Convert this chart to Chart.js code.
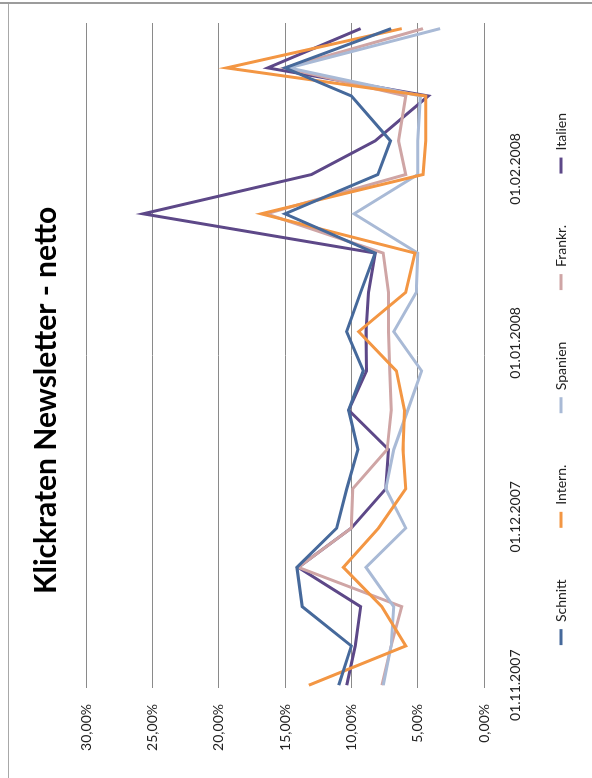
<!DOCTYPE html>
<html>
<head>
<meta charset="utf-8">
<script src="https://cdn.jsdelivr.net/npm/chart.js@4.4.1/dist/chart.umd.min.js"></script>
<style>
  html, body { margin: 0; padding: 0; background: #fff; }
  body { width: 592px; height: 778px; position: relative; overflow: hidden; }
  #topline { position: absolute; left: 0; top: 2px; width: 592px; border-top: 2px solid #9c9c9c; }
  #leftline { position: absolute; left: 8px; top: 4px; height: 780px; border-left: 1px solid #a8a8a8; }
  #rot { position: absolute; left: 0; top: 0; width: 778px; height: 592px;
         transform-origin: 0 0; transform: translateY(778px) rotate(-90deg); }
</style>
</head>
<body>
<div id="topline"></div>
<div id="leftline"></div>
<div id="rot"><canvas id="chart" width="778" height="592"></canvas></div>
<script>
// Versanddaten und Klickraten (in %)
const sendDates = ['01.11.2007', '08.11.2007', '15.11.2007', '22.11.2007', '29.11.2007', '06.12.2007',
  '13.12.2007', '20.12.2007', '27.12.2007', '03.01.2008', '10.01.2008', '17.01.2008', '24.01.2008',
  '31.01.2008', '06.02.2008', '14.02.2008', '19.02.2008', '26.02.2008'];
const schnitt = [10.95, 10.0, 13.7, 14.1, 11.1, 10.35, 9.5, 10.2, 9.1, 10.35, 9.3, 8.2, 15.0, 8.0, 7.05, 10.0, 15.0, 7.0];
const intern  = [13.2, 5.9, 7.7, 10.6, 7.95, 5.9, 6.1, 6.0, 6.6, 9.45, 5.9, 5.2, 16.8, 4.6, 4.4, 4.4, 19.4, 6.2];
const spanien = [7.6, 7.0, 6.8, 8.9, 5.9, 7.4, 6.8, 5.75, 4.7, 6.8, 5.1, 5.0, 9.8, 5.0, 5.0, 4.8, 14.7, 3.3];
const frankr  = [7.7, 7.0, 6.2, 14.0, 10.0, 9.9, 7.3, 7.0, 7.1, 7.2, 7.2, 7.6, 16.4, 5.9, 6.45, 5.9, 15.0, 4.6];
const italien = [10.35, 9.7, 9.3, 14.0, 10.0, 7.4, 7.2, 10.2, 8.85, 8.9, 8.7, 8.2, 25.7, 13.0, 8.2, 4.2, 16.3, 9.3];

const seriesNames = ['Schnitt', 'Intern.', 'Spanien', 'Frankr.', 'Italien'];
const tickDates = ['01.11.2007', '01.12.2007', '01.01.2008', '01.02.2008'];
const yTicks = [0, 5, 10, 15, 20, 25, 30];

function toDay(s) {
  const [d, m, y] = s.split('.').map(Number);
  return Date.UTC(y, m - 1, d) / 864e5;
}

const days = sendDates.map(toDay);
const tickDays = tickDates.map(toDay);
const colors = ['#46699b', '#f39643', '#a9bad6', '#cfa5a5', '#5d4888'];
const values = [schnitt, intern, spanien, frankr, italien];

const datasets = seriesNames.map((name, i) => ({
  label: name,
  data: values[i].map((v, j) => ({ x: days[j], y: v })),
  borderColor: colors[i],
  backgroundColor: colors[i],
  borderWidth: 3,
  pointRadius: 0,
  pointStyle: 'line',
  tension: 0
}));

const font = 'Lato, "Open Sans", sans-serif';
// Abstand zwischen den Legendeneintraegen (nur horizontal), am Ende etwas Luft
const legendGap = '\u2003\u2003\u2003';
const legendTail = '\u2003\u2003\u2003\u2003\u2003\u2003\u2002';

new Chart(document.getElementById('chart'), {
  type: 'line',
  data: { datasets: datasets },
  options: {
    responsive: false,
    animation: false,
    layout: { padding: { left: 0, right: 23, top: 0, bottom: 14 } },
    plugins: {
      title: {
        display: true,
        text: 'Klickraten Newsletter - netto',
        color: '#000',
        font: { family: font, size: 30, weight: 'bold' },
        padding: { top: 28, bottom: 22 }
      },
      legend: {
        position: 'bottom',
        align: 'end',
        labels: {
          color: '#222',
          font: { family: font, size: 14 },
          usePointStyle: true,
          pointStyleWidth: 16,
          boxHeight: 8,
          padding: 20,
          generateLabels: chart => Chart.defaults.plugins.legend.labels.generateLabels(chart)
            .map((item, i, all) => Object.assign(item, { text: item.text + (i < all.length - 1 ? legendGap : legendTail) }))
        }
      },
      tooltip: { enabled: false }
    },
    scales: {
      x: {
        type: 'linear',
        min: days[0] - 0.5,
        max: days[days.length - 1] + 1,
        afterBuildTicks: s => { s.ticks = tickDays.map(v => ({ value: v })); },
        ticks: {
          color: '#222',
          font: { family: font, size: 14 },
          padding: 23,
          maxRotation: 0,
          callback: v => tickDates[tickDays.indexOf(v)]
        },
        grid: { display: false, drawTicks: false },
        border: { display: false },
        afterFit: s => { s.height = 50; }
      },
      y: {
        min: 0,
        max: 30,
        afterBuildTicks: s => { s.ticks = yTicks.map(v => ({ value: v })); },
        ticks: {
          color: '#222',
          font: { family: font, size: 14 },
          padding: 16,
          callback: v => v.toFixed(2).replace('.', ',') + '%'
        },
        grid: { color: '#8a8a8a', lineWidth: 1, drawTicks: false },
        border: { display: false },
        afterFit: s => { s.width = 90; }
      }
    }
  }
});
</script>
</body>
</html>
